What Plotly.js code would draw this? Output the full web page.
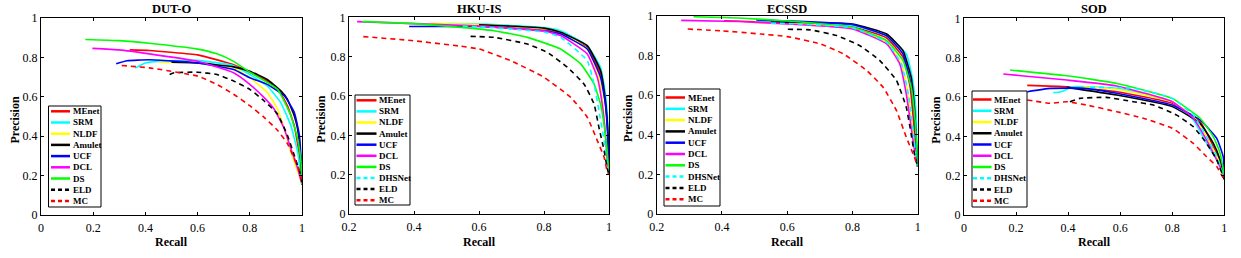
<!DOCTYPE html>
<html><head><meta charset="utf-8">
<script src="https://cdn.plot.ly/plotly-3.0.1.min.js"></script>
<style>html,body{margin:0;padding:0;background:#fff}#chart{width:1241px;height:258px}</style>
</head><body><div id="chart"></div>
<script>
// ---------- data (recall / precision) ----------
const METHODS = ['MEnet','SRM','NLDF','Amulet','UCF','DCL','DS','DHSNet','ELD','MC'];
const DATASETS = ['DUT-O','HKU-IS','ECSSD','SOD'];

// DUT-O
const D_MEnet_R = [0.34,0.415,0.6,0.7,0.738,0.8,0.867,0.912,0.944,0.97,0.99,1.0];
const D_MEnet_P = [0.838,0.835,0.813,0.778,0.763,0.725,0.68,0.63,0.555,0.455,0.305,0.155];
const D_SRM_R = [0.361,0.4,0.45,0.6,0.738,0.8,0.867,0.918,0.957,0.983,1.0];
const D_SRM_P = [0.746,0.772,0.78,0.785,0.758,0.713,0.655,0.572,0.455,0.322,0.155];
const D_NLDF_R = [0.45,0.6,0.738,0.8,0.867,0.906,0.932,0.957,0.983,1.0];
const D_NLDF_P = [0.775,0.772,0.747,0.697,0.622,0.538,0.438,0.322,0.222,0.155];
const D_Amulet_R = [0.5,0.6,0.738,0.8,0.867,0.919,0.944,0.97,0.983,0.996,1.0];
const D_Amulet_P = [0.775,0.772,0.752,0.73,0.688,0.63,0.588,0.505,0.438,0.272,0.155];
const D_UCF_R = [0.288,0.33,0.415,0.6,0.738,0.8,0.867,0.932,0.97,0.99,1.0];
const D_UCF_P = [0.768,0.783,0.788,0.772,0.738,0.697,0.663,0.605,0.522,0.405,0.2];
const D_DCL_R = [0.197,0.3,0.415,0.6,0.738,0.8,0.854,0.893,0.932,0.957,0.983,1.0];
const D_DCL_P = [0.846,0.838,0.818,0.78,0.722,0.663,0.597,0.538,0.438,0.338,0.238,0.155];
const D_DS_R = [0.17,0.3,0.415,0.6,0.674,0.738,0.8,0.906,0.957,0.983,0.996,1.0];
const D_DS_P = [0.891,0.885,0.872,0.842,0.818,0.78,0.725,0.638,0.505,0.388,0.27,0.155];
const D_ELD_R = [0.493,0.51,0.6,0.674,0.738,0.8,0.854,0.906,0.944,0.97,0.996,1.0];
const D_ELD_P = [0.713,0.722,0.725,0.713,0.68,0.638,0.58,0.513,0.405,0.305,0.197,0.155];
const D_MC_R = [0.309,0.415,0.6,0.674,0.738,0.8,0.854,0.906,0.944,0.97,0.996,1.0];
const D_MC_P = [0.759,0.747,0.705,0.663,0.613,0.555,0.497,0.43,0.363,0.288,0.205,0.155];

// HKU-IS
const H_MEnet_R = [0.55,0.6,0.8,0.851,0.933,0.974,0.989,0.997,1.0];
const H_MEnet_P = [0.965,0.962,0.94,0.919,0.847,0.712,0.559,0.39,0.2];
const H_SRM_R = [0.5,0.6,0.8,0.851,0.933,0.974,0.989,0.997,1.0];
const H_SRM_P = [0.968,0.967,0.948,0.932,0.856,0.746,0.61,0.44,0.2];
const H_NLDF_R = [0.45,0.6,0.8,0.851,0.933,0.969,0.982,0.989,1.0];
const H_NLDF_P = [0.97,0.964,0.942,0.924,0.839,0.695,0.542,0.39,0.2];
const H_Amulet_R = [0.6,0.8,0.851,0.933,0.974,0.989,0.997,1.0];
const H_Amulet_P = [0.962,0.945,0.924,0.856,0.729,0.576,0.407,0.2];
const H_UCF_R = [0.385,0.6,0.8,0.851,0.933,0.974,0.989,0.997,1.0];
const H_UCF_P = [0.953,0.953,0.932,0.915,0.839,0.695,0.559,0.373,0.2];
const H_DCL_R = [0.225,0.4,0.6,0.8,0.851,0.933,0.964,0.979,0.989,0.994,1.0];
const H_DCL_P = [0.978,0.968,0.955,0.93,0.907,0.814,0.695,0.559,0.407,0.288,0.2];
const H_DS_R = [0.24,0.4,0.544,0.646,0.749,0.851,0.913,0.954,0.974,0.986,0.994,1.0];
const H_DS_P = [0.978,0.968,0.949,0.932,0.898,0.839,0.763,0.661,0.559,0.44,0.322,0.2];
const H_DHSNet_R = [0.55,0.6,0.8,0.851,0.933,0.954,0.969,0.985,0.994,1.0];
const H_DHSNet_P = [0.955,0.952,0.925,0.898,0.78,0.661,0.525,0.373,0.254,0.2];
const H_ELD_R = [0.574,0.646,0.749,0.81,0.872,0.923,0.954,0.969,0.985,0.994,1.0];
const H_ELD_P = [0.903,0.898,0.864,0.822,0.746,0.661,0.559,0.44,0.322,0.237,0.2];
const H_MC_R = [0.244,0.398,0.544,0.6,0.697,0.8,0.882,0.933,0.964,0.985,0.994,1.0];
const H_MC_P = [0.902,0.881,0.853,0.839,0.78,0.695,0.593,0.492,0.373,0.288,0.22,0.2];

// ECSSD
const E_MEnet_R = [0.406,0.6,0.8,0.905,0.955,0.977,0.987,0.995,1.0];
const E_MEnet_P = [0.976,0.966,0.946,0.889,0.792,0.64,0.472,0.303,0.24];
const E_SRM_R = [0.5,0.6,0.8,0.905,0.965,0.985,0.995,1.0];
const E_SRM_P = [0.97,0.968,0.952,0.9,0.808,0.674,0.505,0.24];
const E_NLDF_R = [0.5,0.6,0.8,0.905,0.95,0.97,0.983,0.995,1.0];
const E_NLDF_P = [0.965,0.963,0.94,0.867,0.758,0.606,0.438,0.27,0.24];
const E_Amulet_R = [0.55,0.6,0.8,0.905,0.955,0.98,0.99,0.997,1.0];
const E_Amulet_P = [0.97,0.969,0.96,0.909,0.825,0.69,0.539,0.337,0.24];
const E_UCF_R = [0.505,0.6,0.8,0.905,0.955,0.977,0.99,0.997,1.0];
const E_UCF_P = [0.98,0.975,0.957,0.9,0.808,0.674,0.505,0.303,0.24];
const E_DCL_R = [0.275,0.45,0.6,0.8,0.905,0.945,0.965,0.98,0.995,1.0];
const E_DCL_P = [0.978,0.972,0.96,0.935,0.859,0.758,0.606,0.438,0.27,0.24];
const E_DS_R = [0.313,0.45,0.6,0.8,0.905,0.955,0.98,0.992,1.0];
const E_DS_P = [0.996,0.99,0.975,0.943,0.876,0.775,0.64,0.472,0.24];
const E_DHSNet_R = [0.55,0.6,0.8,0.905,0.95,0.973,0.987,0.997,1.0];
const E_DHSNet_P = [0.963,0.962,0.94,0.867,0.758,0.59,0.404,0.253,0.24];
const E_ELD_R = [0.602,0.671,0.752,0.823,0.884,0.935,0.965,0.98,0.99,1.0];
const E_ELD_P = [0.933,0.93,0.901,0.85,0.775,0.674,0.539,0.404,0.303,0.24];
const E_MC_R = [0.295,0.4,0.519,0.6,0.702,0.773,0.844,0.894,0.935,0.965,0.986,1.0];
const E_MC_P = [0.934,0.925,0.909,0.896,0.859,0.808,0.724,0.64,0.522,0.388,0.303,0.24];

// SOD
const S_MEnet_R = [0.243,0.395,0.587,0.8,0.907,0.958,0.99,1.0];
const S_MEnet_P = [0.659,0.652,0.627,0.568,0.474,0.347,0.246,0.188];
const S_SRM_R = [0.343,0.37,0.39,0.414,0.587,0.8,0.881,0.932,0.971,1.0];
const S_SRM_P = [0.622,0.625,0.635,0.652,0.644,0.576,0.483,0.364,0.28,0.19];
const S_NLDF_R = [0.459,0.587,0.8,0.894,0.945,0.984,1.0];
const S_NLDF_P = [0.652,0.639,0.576,0.483,0.364,0.263,0.19];
const S_Amulet_R = [0.395,0.587,0.8,0.907,0.958,0.984,1.0];
const S_Amulet_P = [0.649,0.61,0.551,0.466,0.364,0.28,0.195];
const S_UCF_R = [0.243,0.331,0.459,0.587,0.8,0.907,0.971,0.996,1.0];
const S_UCF_P = [0.627,0.644,0.644,0.619,0.559,0.483,0.39,0.296,0.2];
const S_DCL_R = [0.151,0.395,0.587,0.8,0.881,0.932,0.971,1.0];
const S_DCL_P = [0.717,0.686,0.656,0.576,0.492,0.381,0.28,0.2];
const S_DS_R = [0.177,0.395,0.587,0.8,0.907,0.958,0.984,1.0];
const S_DS_P = [0.737,0.708,0.669,0.593,0.492,0.398,0.314,0.2];
const S_DHSNet_R = [0.484,0.651,0.8,0.881,0.932,0.971,1.0];
const S_DHSNet_P = [0.649,0.644,0.593,0.508,0.398,0.297,0.19];
const S_ELD_R = [0.407,0.445,0.548,0.651,0.728,0.817,0.881,0.932,0.971,1.0];
const S_ELD_P = [0.576,0.593,0.598,0.576,0.559,0.508,0.449,0.364,0.28,0.18];
const S_MC_R = [0.243,0.331,0.395,0.471,0.587,0.689,0.8,0.881,0.932,0.971,1.0];
const S_MC_P = [0.585,0.568,0.576,0.559,0.525,0.492,0.441,0.364,0.296,0.246,0.178];

const TICK_VALS = [0,0.2,0.4,0.6,0.8,1];
const TICK_TEXT = ['0','0.2','0.4','0.6','0.8','1'];

// ---------- styles ----------
const STYLE = {
  MEnet:{color:'#ff0000',dash:'solid'}, SRM:{color:'#00ffff',dash:'solid'},
  NLDF:{color:'#ffff00',dash:'solid'}, Amulet:{color:'#000000',dash:'solid'},
  UCF:{color:'#0000ff',dash:'solid'}, DCL:{color:'#ff00ff',dash:'solid'},
  DS:{color:'#00ff00',dash:'solid'}, DHSNet:{color:'#00ffff',dash:'5px,4px'},
  ELD:{color:'#000000',dash:'5px,4px'}, MC:{color:'#ff0000',dash:'5px,4px'}
};
const SERIES = {
  'DUT-O':{MEnet:[D_MEnet_R,D_MEnet_P],SRM:[D_SRM_R,D_SRM_P],NLDF:[D_NLDF_R,D_NLDF_P],Amulet:[D_Amulet_R,D_Amulet_P],UCF:[D_UCF_R,D_UCF_P],DCL:[D_DCL_R,D_DCL_P],DS:[D_DS_R,D_DS_P],ELD:[D_ELD_R,D_ELD_P],MC:[D_MC_R,D_MC_P]},
  'HKU-IS':{MEnet:[H_MEnet_R,H_MEnet_P],SRM:[H_SRM_R,H_SRM_P],NLDF:[H_NLDF_R,H_NLDF_P],Amulet:[H_Amulet_R,H_Amulet_P],UCF:[H_UCF_R,H_UCF_P],DCL:[H_DCL_R,H_DCL_P],DS:[H_DS_R,H_DS_P],DHSNet:[H_DHSNet_R,H_DHSNet_P],ELD:[H_ELD_R,H_ELD_P],MC:[H_MC_R,H_MC_P]},
  'ECSSD':{MEnet:[E_MEnet_R,E_MEnet_P],SRM:[E_SRM_R,E_SRM_P],NLDF:[E_NLDF_R,E_NLDF_P],Amulet:[E_Amulet_R,E_Amulet_P],UCF:[E_UCF_R,E_UCF_P],DCL:[E_DCL_R,E_DCL_P],DS:[E_DS_R,E_DS_P],DHSNet:[E_DHSNet_R,E_DHSNet_P],ELD:[E_ELD_R,E_ELD_P],MC:[E_MC_R,E_MC_P]},
  'SOD':{MEnet:[S_MEnet_R,S_MEnet_P],SRM:[S_SRM_R,S_SRM_P],NLDF:[S_NLDF_R,S_NLDF_P],Amulet:[S_Amulet_R,S_Amulet_P],UCF:[S_UCF_R,S_UCF_P],DCL:[S_DCL_R,S_DCL_P],DS:[S_DS_R,S_DS_P],DHSNet:[S_DHSNet_R,S_DHSNet_P],ELD:[S_ELD_R,S_ELD_P],MC:[S_MC_R,S_MC_P]}
};

// ---------- layout geometry (pixels) ----------
const W = 1241, H = 258;
const PANELS = [
  {x0:41, x1:302, y0:18, y1:215, xmin:0, ytitleX:15,
   leg:{x0:48.5,x1:101,y0:106,y1:207,first:111.3,step:11.2,lx0:51,lx1:70,tx:71}},
  {x0:349, x1:609, y0:17.3, y1:214, xmin:0.2, ytitleX:321,
   leg:{x0:355,x1:410,y0:95,y1:205,first:100.3,step:11.1,lx0:356.5,lx1:376.5,tx:377}},
  {x0:656.7, x1:917.7, y0:16, y1:214, xmin:0.2, ytitleX:628,
   leg:{x0:664,x1:720,y0:89,y1:206,first:97.5,step:11.3,lx0:665.5,lx1:685,tx:685.5}},
  {x0:964, x1:1224.3, y0:18.3, y1:215, xmin:0, ytitleX:936,
   leg:{x0:972,x1:1027,y0:91,y1:207,first:99.5,step:11.25,lx0:973,lx1:991.5,tx:992}}
];
const fx = p => p / W;
const fy = p => 1 - p / H;
const SERIF = 'Liberation Serif, Times New Roman, serif';

const traces = [], shapes = [], annotations = [];
const layout = {
  width: W, height: H, margin:{l:0,r:0,t:0,b:0},
  paper_bgcolor:'#ffffff', plot_bgcolor:'#ffffff', showlegend:false,
  font:{family:SERIF, color:'#000', size:12}
};

DATASETS.forEach((ds, i) => {
  const P = PANELS[i];
  const n = i + 1;
  const xa = 'x' + (n === 1 ? '' : n), ya = 'y' + (n === 1 ? '' : n);
  const axCommon = {
    showgrid:false, zeroline:false, showline:true, linecolor:'#000', linewidth:1,
    mirror:'ticks', ticks:'inside', ticklen:3, tickcolor:'#000', tickwidth:1,
    tickfont:{family:SERIF, size:12, color:'#000'}, fixedrange:true
  };
  const xTickVals = TICK_VALS.filter(v => v >= P.xmin - 1e-9);
  const xTickText = TICK_TEXT.filter((t, k) => TICK_VALS[k] >= P.xmin - 1e-9);
  layout['xaxis' + (n === 1 ? '' : n)] = Object.assign({}, axCommon, {
    domain:[fx(P.x0), fx(P.x1)], anchor: ya, range:[P.xmin, 1],
    tickmode:'array', tickvals:xTickVals, ticktext:xTickText, ticklabelstandoff:2
  });
  layout['yaxis' + (n === 1 ? '' : n)] = Object.assign({}, axCommon, {
    domain:[fy(P.y1), fy(P.y0)], anchor: xa, range:[0, 1],
    tickmode:'array', tickvals:TICK_VALS, ticktext:TICK_TEXT
  });

  const present = METHODS.filter(m => SERIES[ds][m]);
  present.forEach(m => {
    const [r, p] = SERIES[ds][m];
    traces.push({
      type:'scatter', mode:'lines', x:r, y:p, xaxis:xa, yaxis:ya, name:m,
      line:{color:STYLE[m].color, dash:STYLE[m].dash, width:1.6, shape:'spline', smoothing:0.4},
      cliponaxis:true, hoverinfo:'skip'
    });
  });

  // title
  annotations.push({text:'<b>'+ds+'</b>', xref:'paper', yref:'paper',
    x:fx((P.x0+P.x1)/2), y:fy(9), xanchor:'center', yanchor:'middle', showarrow:false,
    font:{family:SERIF, size:12.5, color:'#000'}});
  // axis titles
  annotations.push({text:'<b>Recall</b>', xref:'paper', yref:'paper',
    x:fx((P.x0+P.x1)/2), y:fy(241.5), xanchor:'center', yanchor:'middle', showarrow:false,
    font:{family:SERIF, size:12, color:'#000'}});
  annotations.push({text:'<b>Precision</b>', xref:'paper', yref:'paper', textangle:-90,
    x:fx(P.ytitleX), y:fy((P.y0+P.y1)/2 + 4), xanchor:'center', yanchor:'middle', showarrow:false,
    font:{family:SERIF, size:12, color:'#000'}});

  // legend box
  const L = P.leg;
  shapes.push({type:'rect', xref:'paper', yref:'paper', x0:fx(L.x0), x1:fx(L.x1), y0:fy(L.y1), y1:fy(L.y0),
    line:{color:'#000', width:1}, fillcolor:'#ffffff', layer:'above'});
  present.forEach((m, k) => {
    const yy = L.first + k * L.step;
    shapes.push({type:'line', xref:'paper', yref:'paper', x0:fx(L.lx0), x1:fx(L.lx1), y0:fy(yy), y1:fy(yy),
      line:{color:STYLE[m].color, width:2.5, dash: STYLE[m].dash === 'solid' ? 'solid' : '4px,3px'}, layer:'above'});
    annotations.push({text:'<b>'+m+'</b>', xref:'paper', yref:'paper', x:fx(L.tx), y:fy(yy),
      xanchor:'left', yanchor:'middle', showarrow:false, font:{family:SERIF, size:9, color:'#000'}});
  });
});

layout.shapes = shapes;
layout.annotations = annotations;
Plotly.newPlot('chart', traces, layout, {displayModeBar:false, staticPlot:true});
</script></body></html>
